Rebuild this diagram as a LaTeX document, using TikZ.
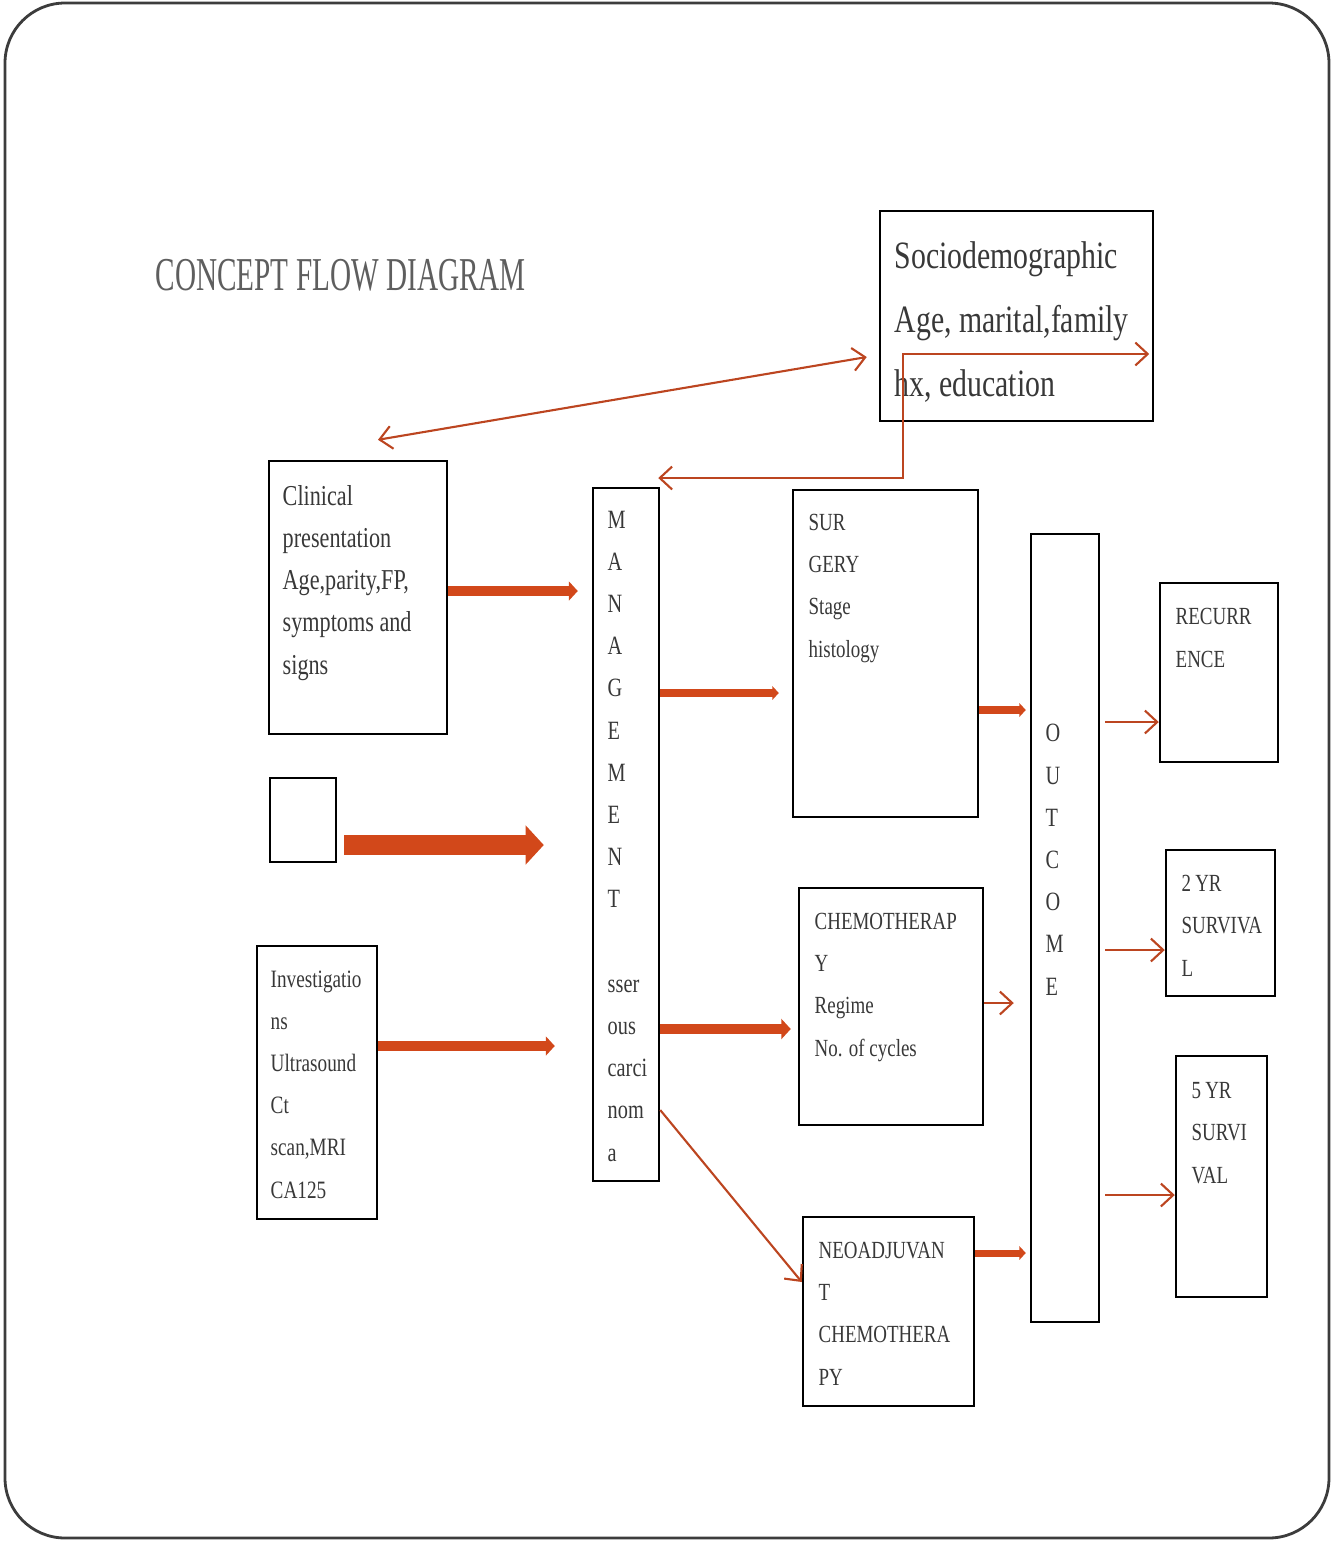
\documentclass[tikz,border=0pt]{standalone}
\usepackage{fontspec}
\setmainfont{Liberation Serif}[FakeStretch=0.77]
\newfontfamily\titlefont{Liberation Serif}[FakeStretch=0.62]
\usepackage{xcolor}
\usepackage{tikz}
\usetikzlibrary{arrows.meta,calc,fit,positioning}
\definecolor{thinred}{HTML}{BC4520}
\definecolor{fatred}{HTML}{D2481A}
\definecolor{txtgrey}{HTML}{383838}
\definecolor{titlegrey}{HTML}{5E5E5E}
\definecolor{framegrey}{HTML}{3C3C3C}

\begin{document}
\begin{tikzpicture}
[x=0.01cm,y=-0.01cm,
box/.style={draw,line width=0.7pt,inner sep=0pt},
txt/.style={anchor=base west,align=left,inner sep=0pt,text=txtgrey,
	font=\fontsize{7}{12}\selectfont},
thinarr/.style={draw=thinred,line width=0.6pt,-{Straight Barb[length=3.5pt,width=6.5pt]}},
thinboth/.style={thinarr,{Straight Barb[length=3.5pt,width=6.5pt]}-{Straight Barb[length=3.5pt,width=6.5pt]}},
fat/.style={draw=fatred,line width=#1,-{Triangle[length=0pt 0.9,width=0pt 1.9]}}]
\useasboundingbox (0,0) rectangle (1333,1541);
\draw[framegrey,line width=0.8pt,rounded corners=0.6cm] (5,3) rectangle (1329,1538);
\node[anchor=base west,inner sep=0pt,text=titlegrey,font=\titlefont\fontsize{13.4}{16}\selectfont]
	(title) at (155,290) {CONCEPT FLOW DIAGRAM};
%% boxes
\node[box,fit={(880,211) (1153,421)}] (socio) {};
\node[box,fit={(269,461) (447,734)}] (clin) {};
\node[box,fit={(270,778) (336,862)}] (blank) {};
\node[box,fit={(257,946) (377,1219)}] (invest) {};
\node[box,fit={(593,488) (659,1181)}] (mgmt) {};
\node[box,fit={(793,490) (978,817)}] (surg) {};
\node[box,fit={(799,888) (983,1125)}] (chemo) {};
\node[box,fit={(803,1217) (974,1406)}] (neo) {};
\node[box,fit={(1031,534) (1099,1322)}] (outc) {};
\node[box,fit={(1160,583) (1278,762)}] (recur) {};
\node[box,fit={(1166,850) (1275,996)}] (surv2) {};
\node[box,fit={(1176,1056) (1267,1297)}] (surv5) {};
%% texts (placed at the baseline of their last line)
\node[txt,font=\fontsize{11}{18.2}\selectfont] (socio-t) at (894,396)
	{Sociodemographic\\Age, marital,family\\hx, education};
\node[txt,font=\fontsize{8.2}{12}\selectfont] (clin-t) at (282,674)
	{Clinical\\presentation\\Age,parity,FP,\\symptoms and\\signs};
\node[txt,font=\fontsize{7.1}{12}\selectfont] (invest-t) at (270,1198)
	{Investigatio\\ns\\Ultrasound\\Ct\\scan,MRI\\CA125};
\node[txt,font=\fontsize{7.5}{12}\selectfont] (mgmt-t) at (607,1161)
	{M\\A\\N\\A\\G\\E\\M\\E\\N\\T\\[12pt]sser\\ous\\carci\\nom\\a};
\node[txt] (surg-t) at (808,657) {SUR\\GERY\\Stage\\histology};
\node[txt] (chemo-t) at (814,1056) {CHEMOTHERAP\\Y\\Regime\\No. of cycles};
\node[txt] (neo-t) at (818,1385) {NEOADJUVAN\\T\\CHEMOTHERA\\PY};
\node[txt,font=\fontsize{7.5}{12}\selectfont] (outc-t) at (1045,995) {O\\U\\T\\C\\O\\M\\E};
\node[txt] (recur-t) at (1175,667) {RECURR\\ENCE};
\node[txt] (surv2-t) at (1181,976) {2\,YR\\SURVIVA\\L};
\node[txt] (surv5-t) at (1191,1183) {5\,YR\\SURVI\\VAL};
%% connectors
\draw[thinboth] ($(clin.north)+(20,-20)$) -- ($(socio.west |- 0,357)+(-12,0)$);
\coordinate (bend) at (903,354);
\draw[thinboth] ($(mgmt.east |- 0,478)+(-2,0)$) -| (bend) -- ($(socio.east |- bend)+(-5,0)$);
\draw[fat=2.8pt] (clin.east |- 0,591) -- ($(mgmt.west |- 0,591)+(-14,0)$);
\draw[fat=5.7pt] ($(blank.east |- 0,845)+(7,0)$) -- ($(mgmt.west |- 0,845)+(-48,0)$);
\draw[fat=2.8pt] (invest.east |- 0,1046) -- ($(mgmt.west |- 0,1046)+(-37,0)$);
\draw[fat=2pt] (mgmt.east |- 0,693) -- ($(surg.west |- 0,693)+(-13,0)$);
\draw[fat=3pt] (mgmt.east |- 0,1029) -- ($(chemo.west |- 0,1029)+(-7,0)$);
\draw[fat=2pt] (surg.east |- 0,710) -- ($(outc.west |- 0,710)+(-4,0)$);
\draw[fat=2pt] (neo.east |- 0,1253) -- ($(outc.west |- 0,1253)+(-4,0)$);
\draw[thinarr] (chemo.east |- 0,1003) -- ($(outc.west |- 0,1003)+(-16,0)$);
\draw[thinarr] (mgmt.east |- 0,1110) -- (neo.west |- 0,1282);
\foreach \endNode/\yy in {recur/722,surv2/950,surv5/1195}
{
	\draw[thinarr] ($(outc.east |- 0,\yy)+(5,0)$) -- (\endNode.west |- 0,\yy);
};
\end{tikzpicture}
\end{document}
